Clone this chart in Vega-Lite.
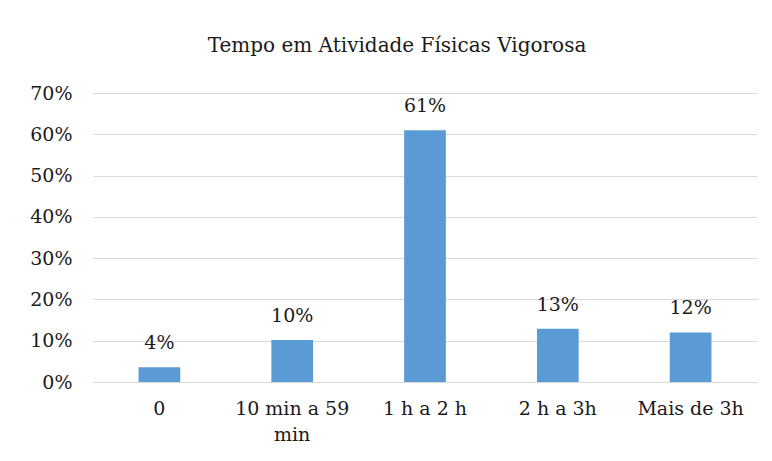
{
  "$schema": "https://vega.github.io/schema/vega-lite/v6.json",
  "autosize": {"type": "none"},
  "padding": {"left": 93, "top": 93, "right": 15, "bottom": 79},
  "width": 664,
  "height": 289,
  "background": "white",
  "title": {
    "text": "Tempo em Atividade Físicas Vigorosa",
    "font": "'DejaVu Serif', serif",
    "fontSize": 20,
    "fontWeight": "normal",
    "color": "#1a1a1a",
    "anchor": "middle",
    "dx": -28,
    "offset": 28
  },
  "data": {
    "values": [
      {"cat": "0", "v": 0.036, "lbl": "4%"},
      {"cat": "10 min a 59 min", "v": 0.102, "lbl": "10%"},
      {"cat": "1 h a 2 h", "v": 0.61, "lbl": "61%"},
      {"cat": "2 h a 3h", "v": 0.129, "lbl": "13%"},
      {"cat": "Mais de 3h", "v": 0.12, "lbl": "12%"}
    ]
  },
  "encoding": {
    "x": {
      "field": "cat",
      "type": "nominal",
      "sort": null,
      "scale": {"paddingInner": 0.686, "paddingOuter": 0.343},
      "axis": {
        "title": null,
        "labelAngle": 0,
        "labelFont": "'DejaVu Serif', serif",
        "labelFontSize": 19,
        "labelColor": "#1a1a1a",
        "labelPadding": 17,
        "ticks": false,
        "domainColor": "#d9d9d9",
        "domainWidth": 1,
        "labelExpr": "datum.value == '10 min a 59 min' ? ['10 min a 59', 'min'] : datum.value",
        "labelLineHeight": 26
      }
    },
    "y": {
      "field": "v",
      "type": "quantitative",
      "scale": {"domain": [0, 0.7], "nice": false},
      "axis": {
        "title": null,
        "format": ".0%",
        "values": [0, 0.1, 0.2, 0.3, 0.4, 0.5, 0.6, 0.7],
        "labelFont": "'DejaVu Serif', serif",
        "labelFontSize": 19,
        "labelColor": "#1a1a1a",
        "labelPadding": 21,
        "ticks": false,
        "domain": false,
        "grid": true,
        "gridColor": "#d9d9d9",
        "gridWidth": 1
      }
    }
  },
  "layer": [
    {"mark": {"type": "bar", "color": "#5B9BD5"}},
    {
      "mark": {
        "type": "text",
        "baseline": "bottom",
        "dy": -14,
        "font": "'DejaVu Serif', serif",
        "fontSize": 19,
        "color": "#1a1a1a"
      },
      "encoding": {"text": {"field": "lbl"}}
    }
  ],
  "config": {"view": {"stroke": null}}
}
